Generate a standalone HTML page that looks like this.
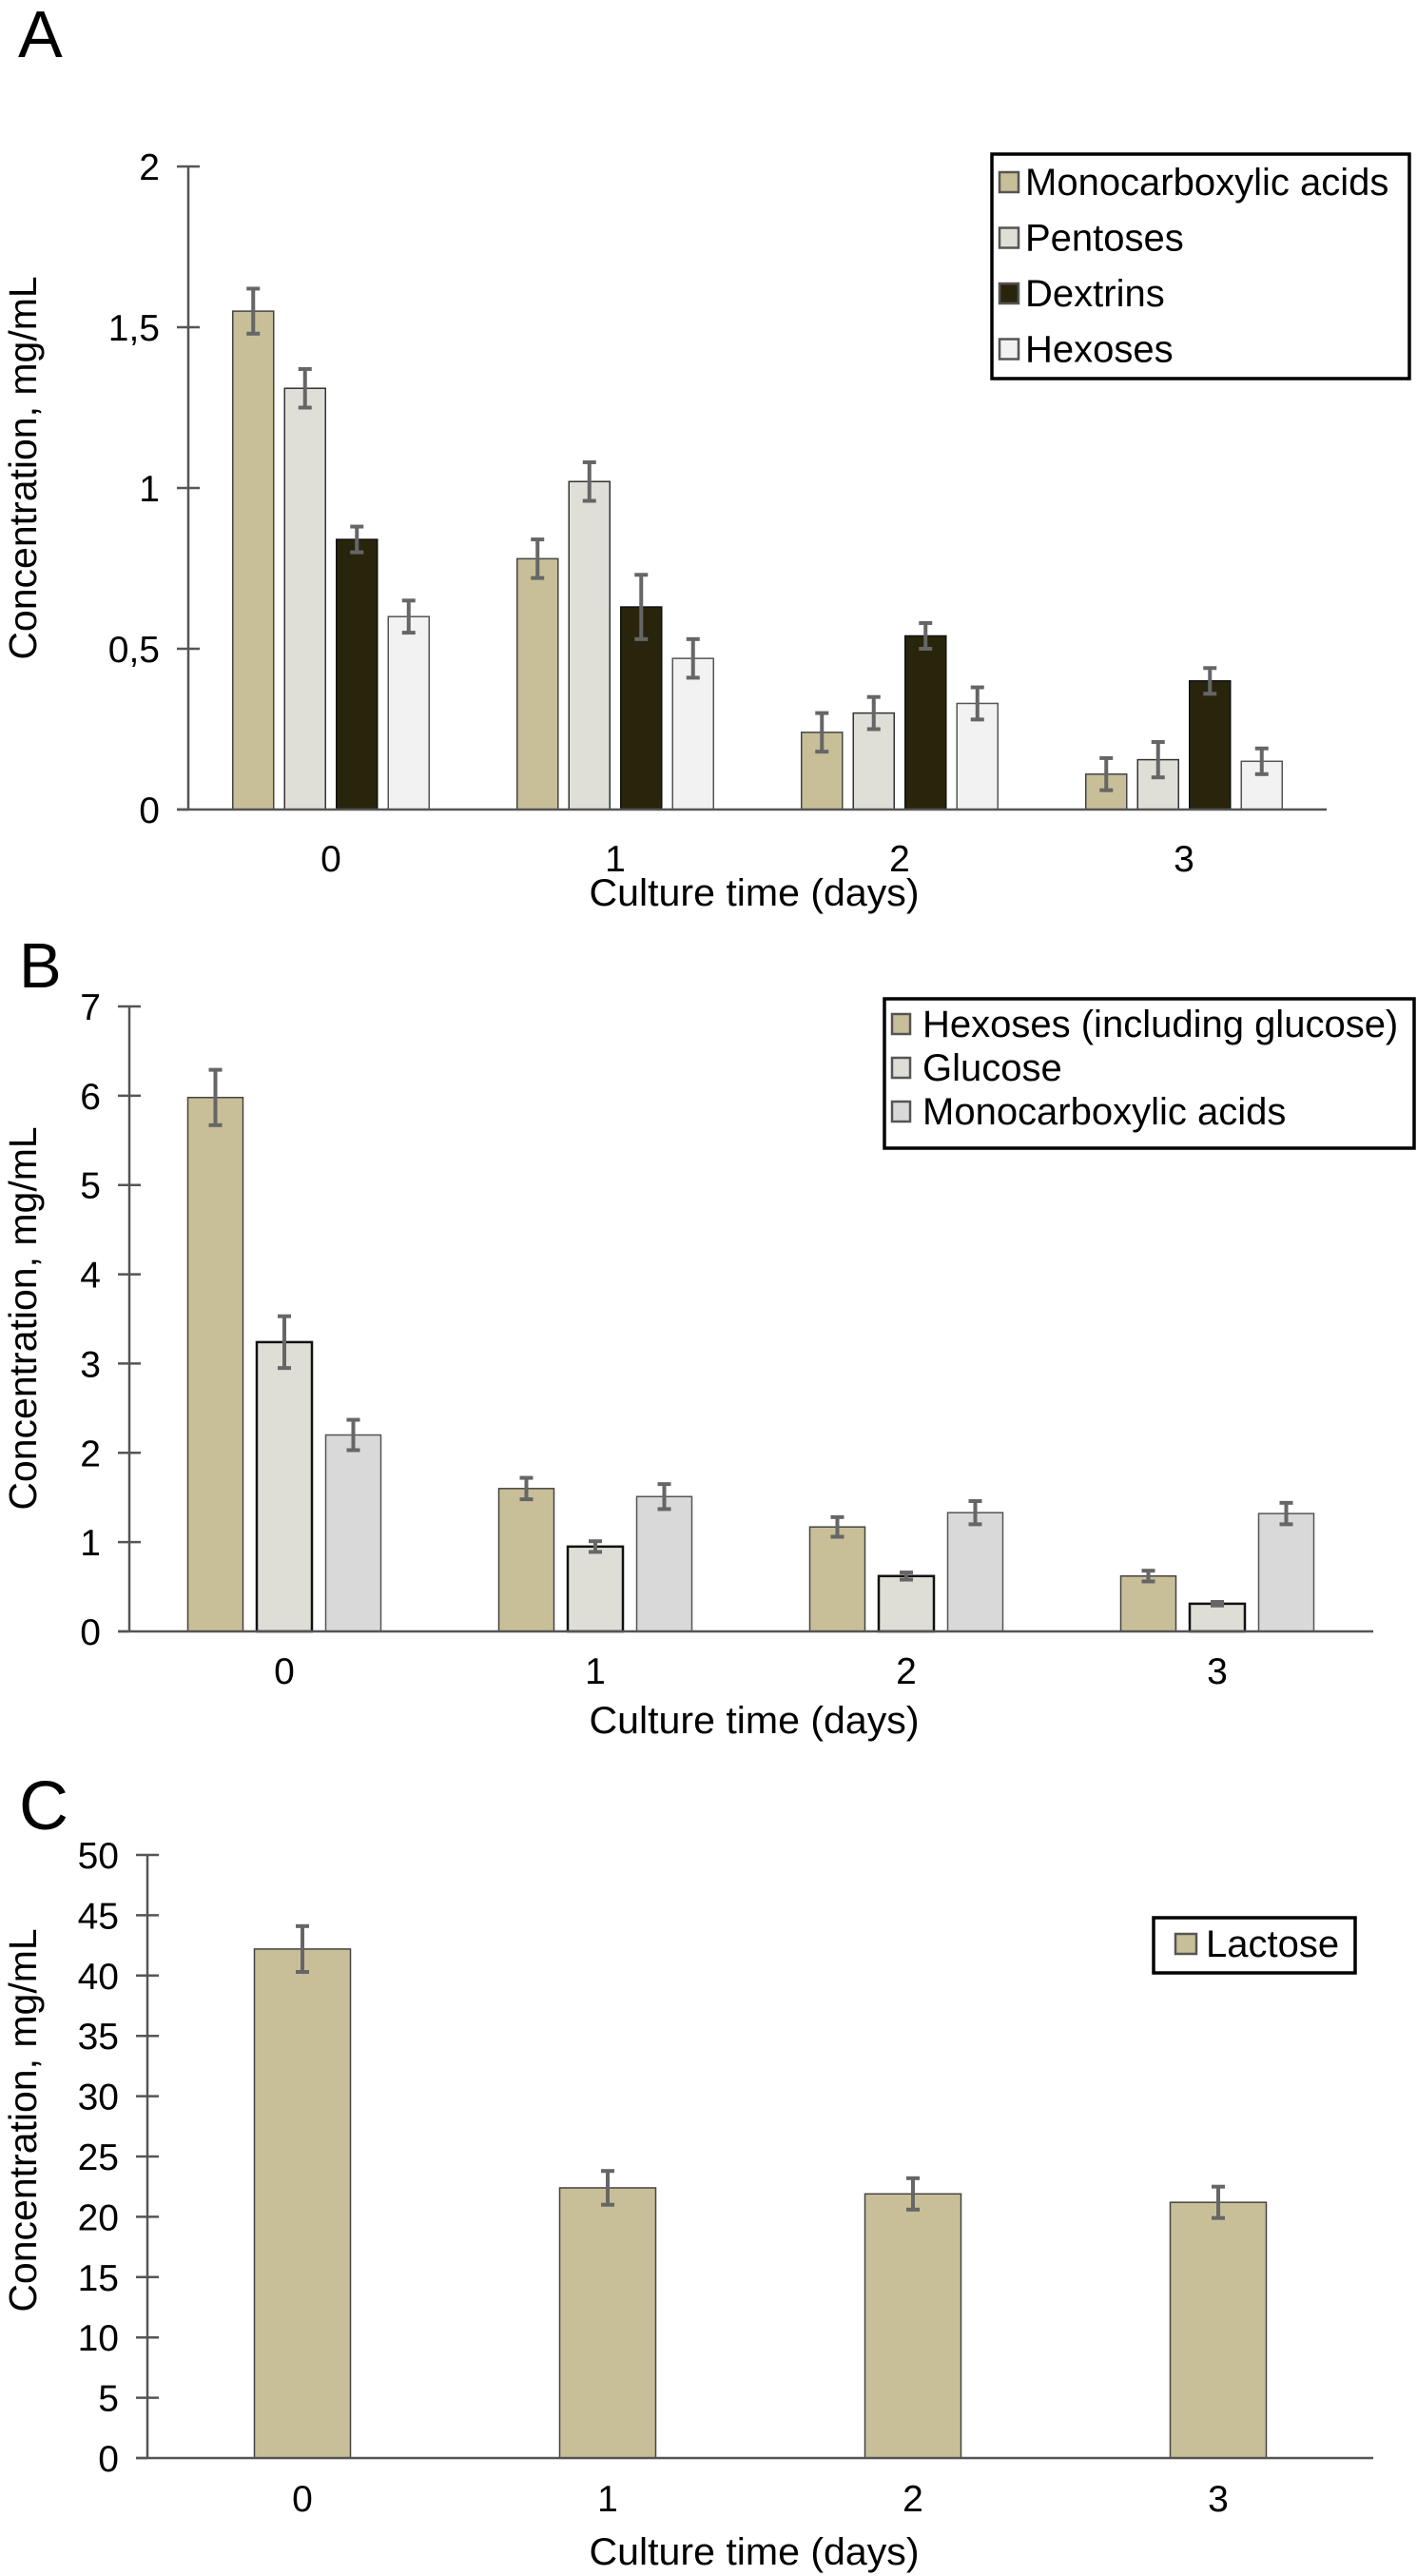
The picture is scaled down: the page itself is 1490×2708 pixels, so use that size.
<!DOCTYPE html>
<html><head><meta charset="utf-8">
<style>
html,body{margin:0;padding:0;background:#fff;}
svg{display:block;font-family:"Liberation Sans",Arial,sans-serif;}
</style></head>
<body>
<svg id="fig" width="1490" height="2708" viewBox="0 0 1490 2708" xmlns="http://www.w3.org/2000/svg">
<rect x="0" y="0" width="1490" height="2708" fill="#fff"/>
<g id="layer"></g>
</svg>
<script>
// ---- Panel A data ----
const catsA = ["0","1","2","3"];
const seriesNamesA = ["Monocarboxylic acids","Pentoses","Dextrins","Hexoses"];
const monoA = [1.55,0.78,0.24,0.11];
const pentA = [1.31,1.02,0.30,0.155];
const dextA = [0.84,0.63,0.54,0.40];
const hexA = [0.60,0.47,0.33,0.15];
const monoAErr = [0.07,0.06,0.06,0.05];
const pentAErr = [0.06,0.06,0.05,0.055];
const dextAErr = [0.04,0.10,0.04,0.04];
const hexAErr = [0.05,0.06,0.05,0.04];
const ticksA = [0,0.5,1,1.5,2];
const tickLabelsA = ["0","0,5","1","1,5","2"];
// ---- Panel B data ----
const catsB = ["0","1","2","3"];
const seriesNamesB = ["Hexoses (including glucose)","Glucose","Monocarboxylic acids"];
const hexB = [5.98,1.60,1.17,0.62];
const gluB = [3.24,0.95,0.62,0.31];
const monoB = [2.20,1.51,1.33,1.32];
const hexBErr = [0.31,0.12,0.11,0.06];
const gluBErr = [0.29,0.06,0.04,0.02];
const monoBErr = [0.17,0.14,0.13,0.12];
const ticksB = [0,1,2,3,4,5,6,7];
const tickLabelsB = ["0","1","2","3","4","5","6","7"];
// ---- Panel C data ----
const catsC = ["0","1","2","3"];
const seriesNamesC = ["Lactose"];
const lacC = [42.2,22.4,21.9,21.2];
const lacCErr = [1.9,1.4,1.3,1.3];
const ticksC = [0,5,10,15,20,25,30,35,40,45,50];
const tickLabelsC = ["0","5","10","15","20","25","30","35","40","45","50"];

const NS = "http://www.w3.org/2000/svg";
const layer = document.getElementById("layer");
function mk(tag, attrs, parent, text){
  const e = document.createElementNS(NS, tag);
  for (const k in attrs) e.setAttribute(k, attrs[k]);
  if (text !== undefined) e.textContent = text;
  (parent || layer).appendChild(e);
  return e;
}

function panel(cfg){
  const g = mk("g", {});
  
  
  const yScale = v => cfg.y0 - (v - cfg.vmin) / (cfg.vmax - cfg.vmin) * (cfg.y0 - cfg.yTop);
  const xScale = i => cfg.firstCenter + i * cfg.step;
  // panel letter
  const lt = mk("text", {x: cfg.letterX, y: cfg.letterY, "font-size": cfg.letterSize, fill: "#000"}, g, cfg.letter);
  
  
  // y axis
  const ya = mk("line", {x1: cfg.xAxis, y1: yScale(cfg.vmax), x2: cfg.xAxis, y2: cfg.y0, stroke: "#555", "stroke-width": 2.5}, g);
  
  
  cfg.ticks.forEach((t, i) => {
    const y = yScale(t);
    const tk = mk("line", {x1: cfg.xAxis - 12, y1: y, x2: cfg.xAxis + (t === cfg.vmin ? 0 : 12), y2: y, stroke: "#555", "stroke-width": 2.5}, g);
    
    
    const tl = mk("text", {x: cfg.xAxis - 30, y: y + 14, "font-size": 39, "text-anchor": "end", fill: "#000"}, g, cfg.tickLabels[i]);
    
    
  });
  // bars
  cfg.series.forEach((s, si) => {
    s.values.forEach((v, ci) => {
      const cx = xScale(ci) + (si - (cfg.series.length - 1) / 2) * cfg.barStep;
      const x = cx - cfg.barW / 2;
      const r = mk("rect", {x: x, y: yScale(v), width: cfg.barW, height: cfg.y0 - yScale(v), fill: s.color, stroke: s.stroke, "stroke-width": s.sw}, g);
      
      
      const e = s.err[ci];
      const eg = mk("g", {stroke: "#666", "stroke-width": 4}, g);
      
      
      mk("line", {x1: cx, y1: yScale(v + e), x2: cx, y2: yScale(v - e)}, eg);
      mk("line", {x1: cx - 7, y1: yScale(v + e), x2: cx + 7, y2: yScale(v + e)}, eg);
      mk("line", {x1: cx - 7, y1: yScale(v - e), x2: cx + 7, y2: yScale(v - e)}, eg);
    });
  });
  // x axis
  const xa = mk("line", {x1: cfg.xAxis - 12, y1: cfg.y0, x2: cfg.xEnd, y2: cfg.y0, stroke: "#555", "stroke-width": 2.5}, g);
  
  
  cfg.cats.forEach((c, i) => {
    const cl = mk("text", {x: xScale(i), y: cfg.catY, "font-size": 39, "text-anchor": "middle", fill: "#000"}, g, c);
    
    
  });
  const xt = mk("text", {x: 793, y: cfg.xTitleY, "font-size": 40, "text-anchor": "middle", fill: "#000", textLength: 347, lengthAdjust: "spacingAndGlyphs"}, g, "Culture time (days)");
  
  
  const yt = mk("text", {x: 0, y: 0, "font-size": 41, "text-anchor": "middle", fill: "#000", transform: "translate(" + 38 + "," + cfg.yTitleC + ") rotate(-90)"}, g, "Concentration, mg/mL");
  
  
  // legend
  const L = cfg.legend;
  const lg = mk("g", {}, g);
  
  
  mk("rect", {x: L.x, y: L.y, width: L.w, height: L.h, fill: "#fff", stroke: "#000", "stroke-width": 3.5}, lg);
  cfg.series.forEach((s, si) => {
    const by = L.base0 + si * L.dy;
    const le = mk("g", {}, lg);
    
    
    mk("rect", {x: L.sx, y: by - 24, width: L.sw, height: 21, fill: s.color, stroke: "#555", "stroke-width": 2.5}, le);
    mk("text", {x: L.tx, y: by, "font-size": 40, fill: "#000"}, le, s.label);
  });
}

panel({
  name: "panel-a-chart", letter: "A", letterX: 19, letterY: 60, letterSize: 70,
  vmin: 0, vmax: 2, y0: 851, yTop: 175, xAxis: 198, xEnd: 1395,
  ticks: ticksA, tickLabels: tickLabelsA, cats: catsA,
  firstCenter: 348, step: 299, barW: 43, barStep: 54.5,
  catY: 916, xTitleY: 952, yTitleC: 492,
  series: [
    {key:"monocarboxylic", label: seriesNamesA[0], values: monoA, err: monoAErr, color:"#c8bf98", stroke:"#444", sw:1.5},
    {key:"pentoses", label: seriesNamesA[1], values: pentA, err: pentAErr, color:"#dfdfd8", stroke:"#333", sw:1.5},
    {key:"dextrins", label: seriesNamesA[2], values: dextA, err: dextAErr, color:"#29250c", stroke:"#111", sw:1.5},
    {key:"hexoses", label: seriesNamesA[3], values: hexA, err: hexAErr, color:"#f2f2f2", stroke:"#555", sw:1.5}
  ],
  legend: {x:1043, y:162, w:439, h:236, base0:205, dy:58.5, sx:1051, sw:20, tx:1078}
});

panel({
  name: "panel-b-chart", letter: "B", letterX: 20, letterY: 1038, letterSize: 67,
  vmin: 0, vmax: 7, y0: 1715, yTop: 1058, xAxis: 136, xEnd: 1444,
  ticks: ticksB, tickLabels: tickLabelsB, cats: catsB,
  firstCenter: 299, step: 327, barW: 58, barStep: 72.5,
  catY: 1770, xTitleY: 1822, yTitleC: 1386,
  series: [
    {key:"hexoses", label: seriesNamesB[0], values: hexB, err: hexBErr, color:"#c8bf98", stroke:"#444", sw:1.5},
    {key:"glucose", label: seriesNamesB[1], values: gluB, err: gluBErr, color:"#dfded6", stroke:"#111", sw:2.5},
    {key:"monocarboxylic", label: seriesNamesB[2], values: monoB, err: monoBErr, color:"#d9d9d9", stroke:"#555", sw:1.5}
  ],
  legend: {x:930, y:1050, w:557, h:157, base0:1090, dy:46, sx:938, sw:19, tx:970}
});

panel({
  name: "panel-c-chart", letter: "C", letterX: 20, letterY: 1923, letterSize: 72,
  vmin: 0, vmax: 50, y0: 2584, yTop: 1950, xAxis: 155, xEnd: 1444,
  ticks: ticksC, tickLabels: tickLabelsC, cats: catsC,
  firstCenter: 318, step: 321, barW: 101, barStep: 0,
  catY: 2640, xTitleY: 2696, yTitleC: 2229,
  series: [
    {key:"lactose", label: seriesNamesC[0], values: lacC, err: lacCErr, color:"#c8bf98", stroke:"#444", sw:1.5}
  ],
  legend: {x:1213, y:2016, w:212, h:58, base0:2057, dy:0, sx:1236, sw:22, tx:1268}
});
</script>
</body></html>
